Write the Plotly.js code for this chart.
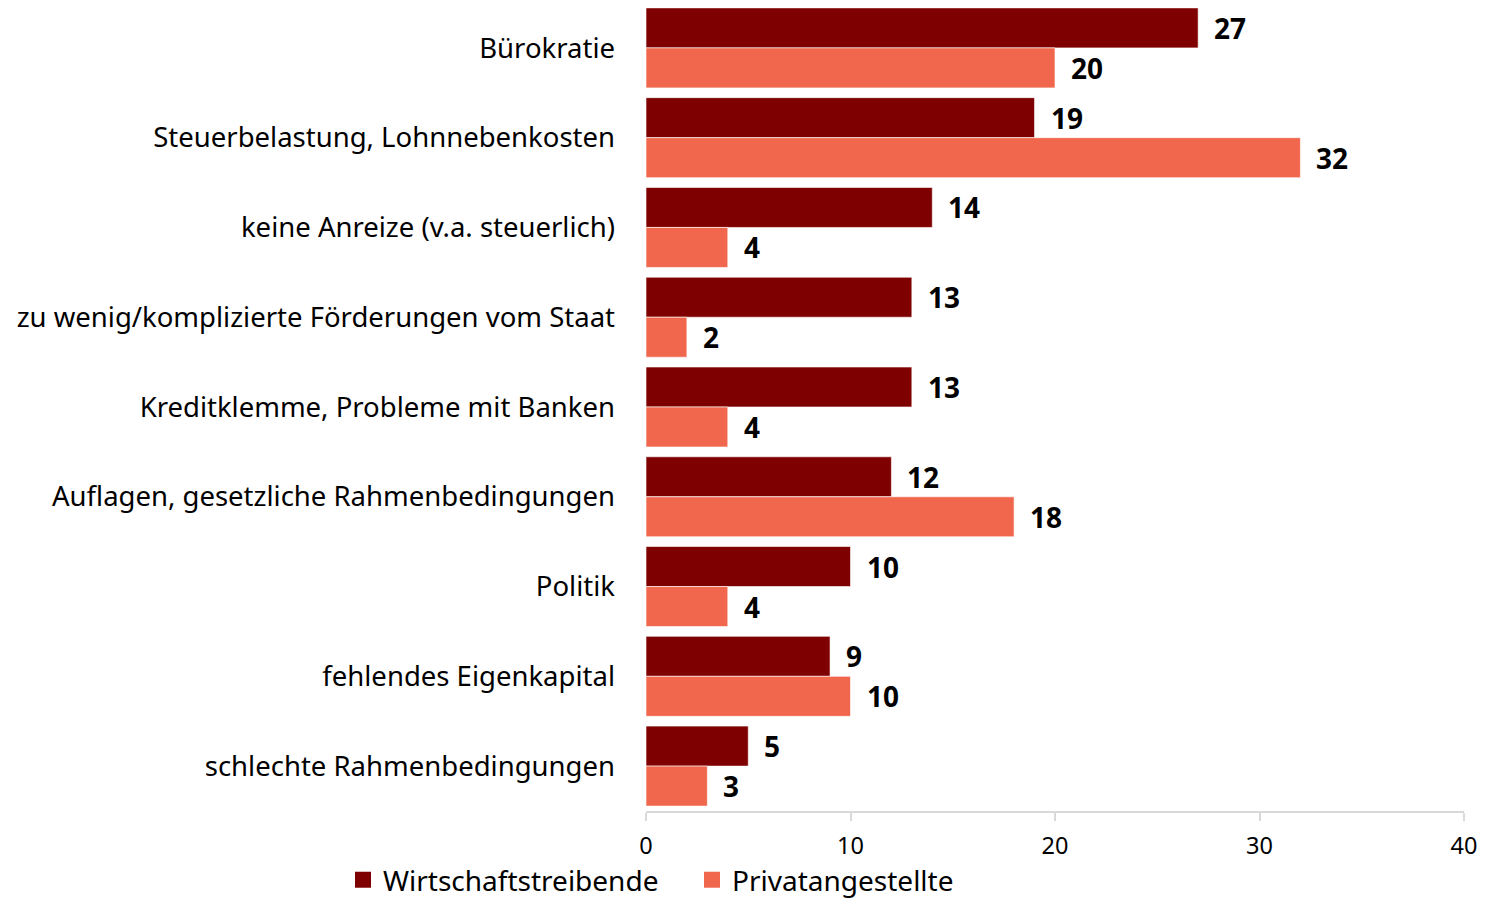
<!DOCTYPE html>
<html><head><meta charset="utf-8">
<script src="https://cdn.plot.ly/plotly-3.0.1.min.js"></script>
<style>html,body{margin:0;padding:0;background:#fff}#c{width:1494px;height:899px}</style>
</head><body><div id="c"></div>
<script>
const categories = ["Bürokratie","Steuerbelastung, Lohnnebenkosten","keine Anreize (v.a. steuerlich)","zu wenig/komplizierte Förderungen vom Staat","Kreditklemme, Probleme mit Banken","Auflagen, gesetzliche Rahmenbedingungen","Politik","fehlendes Eigenkapital","schlechte Rahmenbedingungen"];
const wirtschaft = [27,19,14,13,13,12,10,9,5];
const privat = [20,32,4,2,4,18,4,10,3];
const seriesNames = ["Wirtschaftstreibende","Privatangestellte"];
const tickVals = [0,10,20,30,40];
const FONT = "'Noto Sans', Lato, sans-serif";
const DARK = "#7F0000", LIGHT = "#F0674D";

const traces = [
  {type:'bar', orientation:'h', name:seriesNames[0], y:categories, x:wirtschaft, showlegend:false,
   marker:{color:DARK, line:{color:'rgba(255,255,255,0.6)', width:1}}, hoverinfo:'x'},
  {type:'bar', orientation:'h', name:seriesNames[1], y:categories, x:privat, showlegend:false,
   marker:{color:LIGHT, line:{color:'rgba(255,255,255,0.6)', width:1}}, hoverinfo:'x'},
  {type:'scatter', mode:'markers', name:seriesNames[0], x:[null], y:[null], marker:{symbol:'square', size:17, color:DARK}, showlegend:true, hoverinfo:'skip'},
  {type:'scatter', mode:'markers', name:seriesNames[1], x:[null], y:[null], marker:{symbol:'square', size:17, color:LIGHT}, showlegend:true, hoverinfo:'skip'}
];
const annotations = [];
const lblFont = {family:FONT, size:28, color:'#000', weight:'bold'};
categories.forEach((c,i)=>{
  annotations.push({x:wirtschaft[i], y:c, text:String(wirtschaft[i]), showarrow:false, xanchor:'left', yanchor:'middle', xshift:14, yshift:20, font:lblFont});
  annotations.push({x:privat[i], y:c, text:String(privat[i]), showarrow:false, xanchor:'left', yanchor:'middle', xshift:14, yshift:-20, font:lblFont});
});
const layout = {
  width:1494, height:899,
  margin:{l:646, r:30, t:3, b:88},
  barmode:'group', bargap:0.109, bargroupgap:0,
  paper_bgcolor:'#fff', plot_bgcolor:'#fff',
  font:{family:FONT, color:'#000'},
  showlegend:true,
  legend:{orientation:'h', xref:'container', yref:'container', x:0.2296, xanchor:'left', y:0.0211, yanchor:'middle', font:{family:FONT, size:28, color:'#000'}, itemwidth:30, entrywidth:304, entrywidthmode:'pixels', traceorder:'normal', bgcolor:'rgba(0,0,0,0)'},
  xaxis:{range:[0,40], tickvals:tickVals, ticktext:tickVals.map(String), showgrid:false, zeroline:false, showline:true, linecolor:'#d9d9d9', linewidth:2, ticks:'outside', ticklen:8, tickcolor:'#d9d9d9', tickwidth:2, tickfont:{family:FONT, size:23.5, color:'#000'}, ticklabelstandoff:5, fixedrange:true},
  yaxis:{type:'category', autorange:'reversed', showgrid:false, zeroline:false, showline:false, ticks:'', tickfont:{family:FONT, size:27.5, color:'#000'}, ticklabelstandoff:30, fixedrange:true},
  annotations:annotations
};
Plotly.newPlot('c', traces, layout, {displayModeBar:false, staticPlot:true});
</script></body></html>
